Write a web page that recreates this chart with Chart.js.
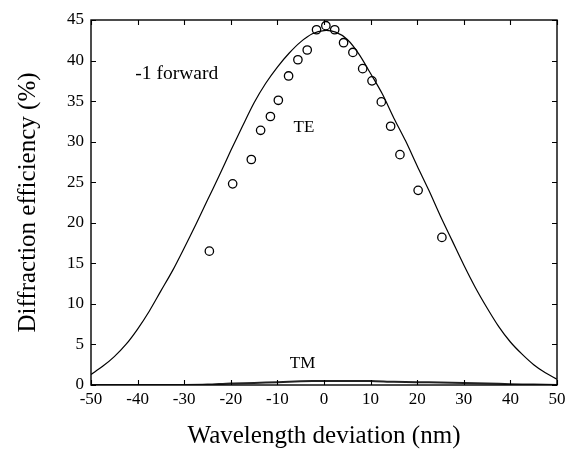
<!DOCTYPE html>
<html>
<head>
<meta charset="utf-8">
<script src="https://cdn.jsdelivr.net/npm/chart.js@4/dist/chart.umd.min.js"></script>
<style>
  html, body { margin: 0; padding: 0; background: #fff; }
  #wrap { width: 576px; height: 462px; position: relative; }
</style>
</head>
<body>
<div id="wrap"><canvas id="c" width="576" height="462"></canvas></div>
<script>
// ---- data ----
const teX = [-50,-47.5,-45,-42.5,-40,-37.5,-35,-32.5,-30,-27.5,-25,-22.5,-20,-17.5,-15,-12.5,-10,-7.5,-5,-2.5,0,2.5,5,7.5,10,12.5,15,17.5,20,22.5,25,27.5,30,32.5,35,37.5,40,42.5,45,47.5,50];
const teY = [1.3,2.3,3.5,5.0,6.9,9.1,11.6,14.1,16.9,19.8,22.8,25.8,28.9,31.9,34.8,37.2,39.2,40.9,42.3,43.3,43.7,43.5,42.6,40.8,38.4,35.9,32.9,30.1,27.0,24.0,20.8,17.8,14.8,12.0,9.5,7.2,5.3,3.8,2.5,1.5,0.7];

const tmX = [-50,-40,-30,-25,-20,-15,-10,-5,0,5,10,15,20,25,30,35,40,45,50];
const tmY = [0,0,0,0.05,0.2,0.25,0.35,0.45,0.5,0.5,0.5,0.4,0.35,0.3,0.25,0.2,0.1,0.05,0.0];

const measX = [-24.6,-19.6,-15.6,-13.6,-11.5,-9.8,-7.6,-5.6,-3.6,-1.6,0.4,2.3,4.2,6.2,8.3,10.3,12.3,14.3,16.3,20.2,25.3];
const measY = [16.5,24.8,27.8,31.4,33.1,35.1,38.1,40.1,41.3,43.8,44.3,43.8,42.2,41.0,39.0,37.5,34.9,31.9,28.4,24.0,18.2];

const xTicks = [-50,-40,-30,-20,-10,0,10,20,30,40,50];
const yTicks = [0,5,10,15,20,25,30,35,40,45];

const annotations = [
  { text: '-1 forward', x: -31.6, y: 38.3, size: 19.5 },
  { text: 'TE', x: -4.3, y: 31.8, size: 17 },
  { text: 'TM', x: -4.6, y: 2.6, size: 17 }
];

const xTitle = 'Wavelength deviation (nm)';
const yTitle = 'Diffraction efficiency (%)';

// ---- chart ----
const SERIF = '"Liberation Serif", "Times New Roman", serif';
const pts = (xs, ys) => xs.map((x, i) => ({ x: x, y: ys[i] }));

const framePlugin = {
  id: 'frame',
  afterDraw(chart) {
    const { ctx, chartArea: a, scales: { x, y } } = chart;
    ctx.save();
    ctx.strokeStyle = '#000';
    ctx.lineWidth = 1.4;
    ctx.strokeRect(a.left, a.top, a.right - a.left, a.bottom - a.top);
    ctx.lineWidth = 1.1;
    const tl = 5;
    ctx.beginPath();
    xTicks.forEach(v => {
      const px = Math.round(x.getPixelForValue(v)) + 0.5;
      ctx.moveTo(px, a.bottom); ctx.lineTo(px, a.bottom - tl);
      ctx.moveTo(px, a.top); ctx.lineTo(px, a.top + tl);
    });
    yTicks.forEach(v => {
      const py = Math.round(y.getPixelForValue(v)) + 0.5;
      ctx.moveTo(a.left, py); ctx.lineTo(a.left + tl, py);
      ctx.moveTo(a.right, py); ctx.lineTo(a.right - tl, py);
    });
    ctx.stroke();
    // annotations
    ctx.fillStyle = '#000';
    ctx.textAlign = 'center';
    ctx.textBaseline = 'middle';
    annotations.forEach(t => {
      ctx.font = t.size + 'px ' + SERIF;
      ctx.fillText(t.text, x.getPixelForValue(t.x), y.getPixelForValue(t.y));
    });
    ctx.restore();
  }
};

new Chart(document.getElementById('c'), {
  type: 'scatter',
  data: {
    datasets: [
      {
        label: 'TE',
        data: pts(teX, teY),
        showLine: true,
        borderColor: '#000',
        borderWidth: 1.2,
        pointRadius: 0,
        tension: 0.3,
        fill: false
      },
      {
        label: 'TM',
        data: pts(tmX, tmY),
        showLine: true,
        borderColor: '#222',
        borderWidth: 2,
        pointRadius: 0,
        tension: 0.3,
        fill: false
      },
      {
        label: 'measured',
        data: pts(measX, measY),
        showLine: false,
        borderColor: '#000',
        backgroundColor: 'rgba(0,0,0,0)',
        borderWidth: 1.3,
        pointRadius: 4.2,
        pointStyle: 'circle'
      }
    ]
  },
  options: {
    responsive: false,
    animation: false,
    devicePixelRatio: 1,
    layout: { padding: { left: 0, right: 19, top: 20, bottom: 0 } },
    plugins: { legend: { display: false }, tooltip: { enabled: false } },
    scales: {
      x: {
        type: 'linear',
        min: -50, max: 50,
        afterBuildTicks: s => { s.ticks = xTicks.map(v => ({ value: v })); },
        afterFit: s => { s.height = 77; },
        grid: { display: false, drawTicks: false },
        border: { display: false },
        ticks: { color: '#000', padding: 4, maxRotation: 0, font: { family: SERIF, size: 17 } },
        title: { display: true, text: xTitle, color: '#000', padding: { top: 0, bottom: 11 }, font: { family: SERIF, size: 25, lineHeight: 1.2 } }
      },
      y: {
        type: 'linear',
        min: 0, max: 45,
        afterBuildTicks: s => { s.ticks = yTicks.map(v => ({ value: v })); },
        afterFit: s => { s.width = 91; },
        grid: { display: false, drawTicks: false },
        border: { display: false },
        ticks: { color: '#000', padding: 7, font: { family: SERIF, size: 17 } },
        title: { display: true, text: yTitle, color: '#000', padding: { top: 13, bottom: 0 }, font: { family: SERIF, size: 25, lineHeight: 1.2 } }
      }
    }
  },
  plugins: [framePlugin]
});
</script>
</body>
</html>
